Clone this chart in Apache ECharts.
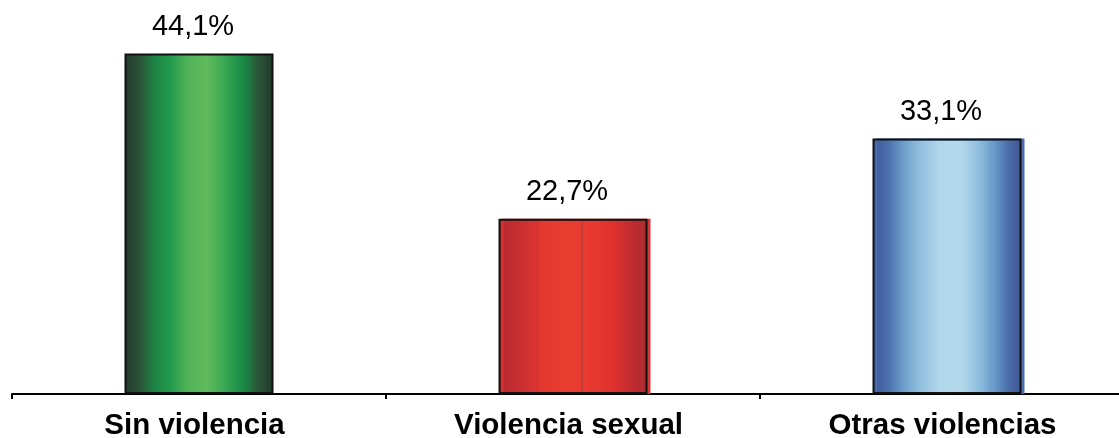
<!DOCTYPE html>
<html>
<head>
<meta charset="utf-8">
<script src="https://cdn.jsdelivr.net/npm/echarts@6/dist/echarts.min.js"></script>
<style>
  html, body { margin: 0; padding: 0; background: #fff; }
  #chart { width: 1119px; height: 438px; }
</style>
</head>
<body>
<div id="chart"></div>
<script>
var categories = ['Sin violencia', 'Violencia sexual', 'Otras violencias'];
var values = [44.1, 22.7, 33.1];

function grad(stops) {
    return new echarts.graphic.LinearGradient(0, 0, 1, 0, stops);
}

var greenFill = grad([
    { offset: 0, color: '#22382c' },
    { offset: 0.1, color: '#2a5336' },
    { offset: 0.2, color: '#1d8244' },
    { offset: 0.3, color: '#1f9a4c' },
    { offset: 0.42, color: '#4fb257' },
    { offset: 0.55, color: '#62bb5d' },
    { offset: 0.68, color: '#36a652' },
    { offset: 0.8, color: '#198a47' },
    { offset: 0.9, color: '#2a5336' },
    { offset: 1, color: '#22382c' }
]);
var redFill = grad([
    { offset: 0, color: '#b52a30' },
    { offset: 0.15, color: '#c92f31' },
    { offset: 0.255, color: '#dc3532' },
    { offset: 0.26, color: '#b03a3a' },
    { offset: 0.27, color: '#e3372f' },
    { offset: 0.45, color: '#ea3d31' },
    { offset: 0.555, color: '#e93c31' },
    { offset: 0.56, color: '#a83a38' },
    { offset: 0.57, color: '#e93b31' },
    { offset: 0.75, color: '#e2322e' },
    { offset: 0.9, color: '#c02b30' },
    { offset: 1, color: '#ac2b31' }
]);
var blueFill = grad([
    { offset: 0, color: '#3d5597' },
    { offset: 0.1, color: '#4a6eab' },
    { offset: 0.2, color: '#6a9bc9' },
    { offset: 0.32, color: '#92c0de' },
    { offset: 0.45, color: '#b1d7ea' },
    { offset: 0.6, color: '#b3d8ea' },
    { offset: 0.72, color: '#8dbddd' },
    { offset: 0.83, color: '#6394c6' },
    { offset: 0.92, color: '#4a6aa8' },
    { offset: 1, color: '#3e5697' }
]);

var fills = [greenFill, redFill, blueFill];
var shadows = [null, '#d83432', '#4c6cad'];

var barData = values.map(function (v, i) {
    var style = {
        color: fills[i],
        borderColor: '#111',
        borderWidth: 2
    };
    if (shadows[i]) {
        style.shadowColor = shadows[i];
        style.shadowOffsetX = 3;
        style.shadowBlur = 0;
    }
    return { value: v, itemStyle: style };
});

var chart = echarts.init(document.getElementById('chart'));
chart.setOption({
    animation: false,
    grid: {
        left: 12, width: 1122, top: 8, bottom: 44,
        containLabel: false,
        outerBoundsMode: 'none'
    },
    xAxis: {
        type: 'category',
        data: categories,
        axisLine: { show: true, lineStyle: { color: '#000', width: 2 } },
        axisTick: { show: true, length: 5, lineStyle: { color: '#000', width: 2 } },
        axisLabel: {
            color: '#000',
            fontFamily: 'Liberation Sans, Arial, sans-serif',
            fontWeight: 'bold',
            fontSize: 29.5,
            margin: 17,
            padding: [0, 9, 0, 0]
        }
    },
    yAxis: {
        type: 'value',
        min: 0,
        max: 50,
        show: false,
        splitLine: { show: false }
    },
    series: [{
        type: 'bar',
        data: barData,
        barWidth: 149,
        label: {
            show: true,
            position: 'top',
            distance: 12,
            offset: [-6, 0],
            color: '#000',
            fontFamily: 'Liberation Sans, Arial, sans-serif',
            fontSize: 29,
            formatter: function (p) {
                return p.value.toFixed(1).replace('.', ',') + '%';
            }
        }
    }]
});
</script>
</body>
</html>
